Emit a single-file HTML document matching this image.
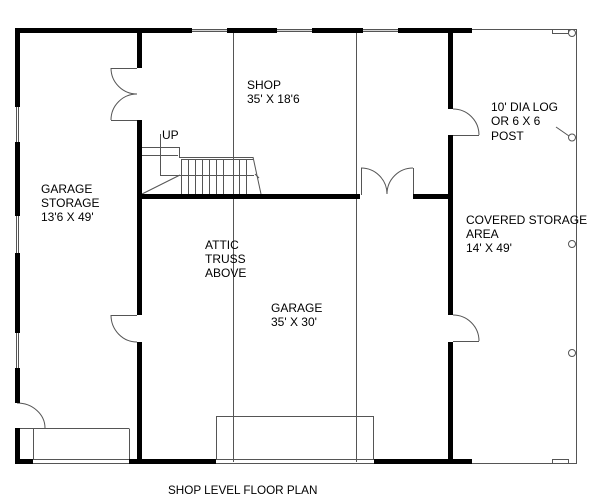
<!DOCTYPE html>
<html>
<head>
<meta charset="utf-8">
<style>
html,body{margin:0;padding:0;background:#fff;}
svg{display:block;}
text{font-family:"Liberation Sans",Arial,sans-serif;font-size:12px;fill:#000;}
</style>
</head>
<body>
<svg width="600" height="500" viewBox="0 0 600 500" xmlns="http://www.w3.org/2000/svg">
<rect x="0" y="0" width="600" height="500" fill="#fff"/>

<!-- top window fills -->
<g fill="#d4d4d4">
  <rect x="192" y="29" width="35" height="3"/>
  <rect x="277" y="29" width="35" height="3"/>
  <rect x="363" y="29" width="35" height="3"/>
</g>

<!-- thin lines -->
<g stroke="#555" stroke-width="1" fill="none">
  <line x1="233.5" y1="33" x2="233.5" y2="462"/>
  <line x1="356.5" y1="33" x2="356.5" y2="462"/>
  <line x1="576.5" y1="30" x2="576.5" y2="464"/>
  <line x1="472" y1="29.5" x2="577" y2="29.5"/>
  <line x1="472" y1="463.5" x2="577" y2="463.5"/>
  <rect x="552.5" y="29.5" width="16" height="4"/>
  <rect x="552.5" y="459.5" width="16" height="4"/>
  <line x1="192" y1="29.5" x2="227" y2="29.5"/>
  <line x1="192" y1="31.5" x2="227" y2="31.5"/>
  <line x1="277" y1="29.5" x2="312" y2="29.5"/>
  <line x1="277" y1="31.5" x2="312" y2="31.5"/>
  <line x1="363" y1="29.5" x2="398" y2="29.5"/>
  <line x1="363" y1="31.5" x2="398" y2="31.5"/>
  <line x1="16.5" y1="107" x2="16.5" y2="142"/>
  <line x1="18.5" y1="107" x2="18.5" y2="142"/>
  <line x1="16.5" y1="216" x2="16.5" y2="253"/>
  <line x1="18.5" y1="216" x2="18.5" y2="253"/>
  <line x1="16.5" y1="333" x2="16.5" y2="368"/>
  <line x1="18.5" y1="333" x2="18.5" y2="368"/>
  <line x1="33" y1="459.5" x2="129" y2="459.5"/>
  <line x1="33" y1="463.5" x2="129" y2="463.5"/>
  <line x1="216" y1="459.5" x2="374" y2="459.5"/>
  <line x1="216" y1="463.5" x2="374" y2="463.5"/>
  <line x1="16" y1="428.5" x2="129" y2="428.5"/>
  <line x1="33.5" y1="428.5" x2="33.5" y2="460"/>
  <line x1="129.5" y1="428.5" x2="129.5" y2="460"/>
  <rect x="216.5" y="416.5" width="157" height="43"/>

  <line x1="20" y1="428.5" x2="45" y2="428.5"/>
  <path d="M17 403 A28 25 0 0 1 45 428"/>
  <line x1="111" y1="68.5" x2="137" y2="68.5"/>
  <path d="M111 68 A26 26 0 0 0 137 94"/>
  <line x1="111" y1="120.5" x2="137" y2="120.5"/>
  <path d="M111 120 A26 26 0 0 1 137 94"/>
  <line x1="111" y1="315.5" x2="137" y2="315.5"/>
  <path d="M111 315 A26 27 0 0 0 137 342"/>
  <line x1="361.5" y1="168" x2="361.5" y2="195"/>
  <path d="M361 168 A26 26 0 0 1 387 194"/>
  <line x1="413.5" y1="168" x2="413.5" y2="195"/>
  <path d="M413 168 A26 26 0 0 0 387 194"/>
  <line x1="453" y1="135.5" x2="479" y2="135.5"/>
  <path d="M453 109 A26 26 0 0 1 479 135"/>
  <line x1="453" y1="341.5" x2="479" y2="341.5"/>
  <path d="M453 315 A26 26 0 0 1 479 341"/>

  <line x1="142" y1="147.5" x2="179" y2="147.5"/>
  <line x1="142" y1="155.5" x2="178" y2="155.5"/>
  <line x1="179.5" y1="147" x2="179.5" y2="158"/>
  <line x1="179" y1="157.5" x2="253" y2="157.5"/>
  <line x1="181" y1="159.5" x2="253" y2="159.5"/>
  <line x1="253" y1="157" x2="261" y2="194"/>
  <line x1="181.5" y1="159" x2="181.5" y2="194"/>
  <line x1="188.5" y1="159" x2="188.5" y2="194"/>
  <line x1="195.5" y1="159" x2="195.5" y2="194"/>
  <line x1="202.5" y1="159" x2="202.5" y2="194"/>
  <line x1="209.5" y1="159" x2="209.5" y2="194"/>
  <line x1="216.5" y1="159" x2="216.5" y2="194"/>
  <line x1="223.5" y1="159" x2="223.5" y2="194"/>
  <line x1="239.5" y1="159" x2="239.5" y2="194"/>
  <line x1="246.5" y1="159" x2="246.5" y2="194"/>
  <line x1="142" y1="194" x2="180" y2="175"/>
  <line x1="160" y1="175.5" x2="254" y2="175.5"/>
  <line x1="160.5" y1="134" x2="160.5" y2="176"/>
  <line x1="255" y1="174" x2="259" y2="178"/>

  <circle cx="572" cy="33" r="3.5" fill="#fff"/>
  <circle cx="572" cy="137.5" r="3.5" fill="#fff"/>
  <circle cx="572" cy="244" r="3.5" fill="#fff"/>
  <circle cx="572" cy="353" r="3.5" fill="#fff"/>
  <line x1="556" y1="127" x2="569" y2="136"/>
</g>

<g fill="#000">
  <rect x="15" y="28" width="177" height="5"/>
  <rect x="227" y="28" width="50" height="5"/>
  <rect x="312" y="28" width="51" height="5"/>
  <rect x="398" y="28" width="74" height="5"/>
  <rect x="15" y="28" width="5" height="79"/>
  <rect x="15" y="142" width="5" height="74"/>
  <rect x="15" y="253" width="5" height="80"/>
  <rect x="15" y="368" width="5" height="35"/>
  <rect x="15" y="428" width="5" height="36"/>
  <rect x="15" y="459" width="18" height="5"/>
  <rect x="129" y="459" width="87" height="5"/>
  <rect x="374" y="459" width="98" height="5"/>
  <rect x="137" y="28" width="5" height="40"/>
  <rect x="137" y="120" width="5" height="195"/>
  <rect x="137" y="342" width="5" height="122"/>
  <rect x="142" y="194" width="218" height="5"/>
  <rect x="413" y="194" width="35" height="5"/>
  <rect x="448" y="28" width="5" height="81"/>
  <rect x="448" y="135" width="5" height="180"/>
  <rect x="448" y="342" width="5" height="122"/>
</g>

<text x="247" y="89">SHOP</text>
<text x="247" y="103">35' X 18'6</text>
<text x="162" y="139">UP</text>
<text x="41" y="193">GARAGE</text>
<text x="41" y="207">STORAGE</text>
<text x="41" y="221">13'6 X 49'</text>
<text x="205" y="249">ATTIC</text>
<text x="205" y="263">TRUSS</text>
<text x="205" y="277">ABOVE</text>
<text x="271" y="312">GARAGE</text>
<text x="271" y="326">35' X 30'</text>
<text x="491" y="111">10' DIA LOG</text>
<text x="491" y="125">OR 6 X 6</text>
<text x="491" y="140">POST</text>
<text x="466" y="224">COVERED STORAGE</text>
<text x="466" y="238">AREA</text>
<text x="466" y="252">14' X 49'</text>
<text x="168" y="494" style="font-size:11.7px">SHOP LEVEL FLOOR PLAN</text>
</svg>
</body>
</html>
